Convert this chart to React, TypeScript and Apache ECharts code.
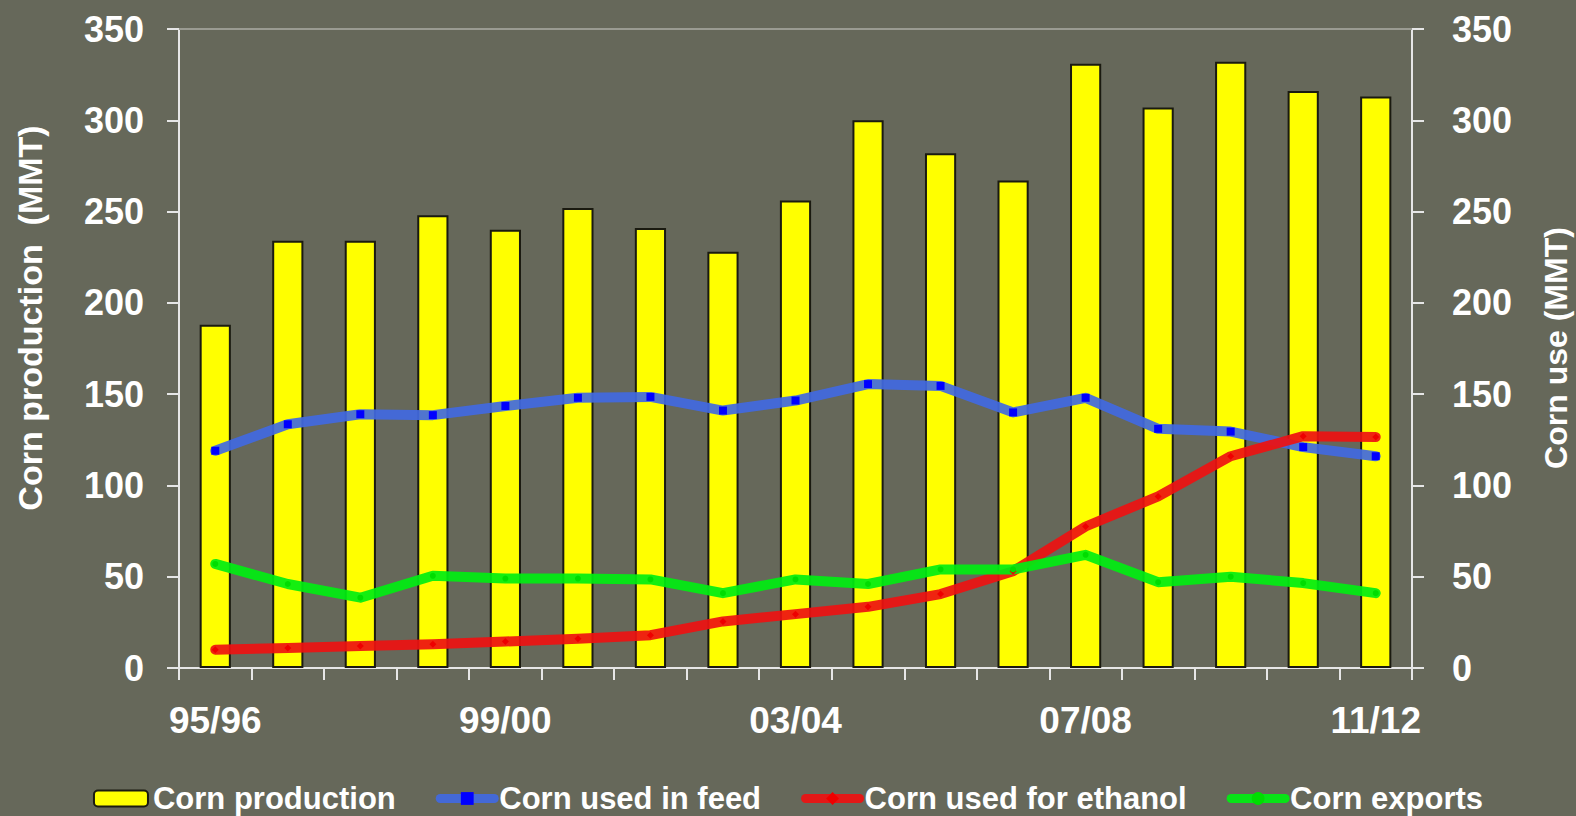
import React, { useEffect, useRef } from "react";
import * as echarts from "echarts";

const categories = [
  "95/96", "96/97", "97/98", "98/99", "99/00", "00/01", "01/02", "02/03", "03/04",
  "04/05", "05/06", "06/07", "07/08", "08/09", "09/10", "10/11", "11/12",
];
const production = [188, 234, 234, 248, 240, 252, 241, 228, 256, 300, 282, 267, 331, 307, 332, 316, 313];
const feed = [119, 133.5, 139, 138.5, 143.5, 148, 148.5, 141, 146.5, 155.5, 154.5, 140, 148, 131, 129.5, 121, 116];
const ethanol = [10, 11, 12, 13, 14.5, 16, 18, 25.5, 29.5, 33.5, 40.5, 53, 77.5, 94, 116, 127, 126.5];
const exportsData = [57, 46, 38.5, 50.5, 49, 49, 48.5, 41, 48.5, 46, 54, 54, 62, 47, 50, 46.5, 41];
const yTicks = { min: 0, max: 350, interval: 50 };

const FONT = "'Liberation Sans', Arial, sans-serif";
const AXIS_COLOR = "#e6e6e6";

export default function App() {
  const ref = useRef<HTMLDivElement>(null);
  useEffect(() => {
    if (!ref.current) return;
    const chart = echarts.init(ref.current, null, { renderer: "svg" });
    const yAxisCommon = {
      type: "value",
      min: yTicks.min,
      max: yTicks.max,
      interval: yTicks.interval,
      splitLine: { show: false },
      axisLine: { show: true, lineStyle: { color: AXIS_COLOR, width: 2 } },
      axisTick: { show: true, length: 12, lineStyle: { color: AXIS_COLOR, width: 2 } },
      axisLabel: { color: "#ffffff", fontSize: 36, fontWeight: "bold", fontFamily: FONT },
    };
    const lineCommon = {
      type: "line",
      yAxisIndex: 1,
      z: 5,
      smooth: false,
    };
    chart.setOption({
      animation: false,
      backgroundColor: "#66685a",
      grid: { left: 179, right: 164, top: 29, bottom: 148, containLabel: false },
      legend: {
        top: 778,
        left: "center",
        itemGap: 40,
        itemWidth: 54,
        itemHeight: 16,
        lineStyle: { width: 9, cap: "round" },
        textStyle: { color: "#ffffff", fontSize: 31, fontWeight: "bold", fontFamily: FONT },
        data: ["Corn production", "Corn used in feed", "Corn used for ethanol", "Corn exports"],
      },
      xAxis: {
        type: "category",
        data: categories,
        boundaryGap: true,
        axisLine: { show: true, lineStyle: { color: AXIS_COLOR, width: 2 } },
        axisTick: { show: true, interval: 0, length: 12, lineStyle: { color: AXIS_COLOR, width: 2 } },
        axisLabel: {
          interval: 3,
          color: "#ffffff",
          fontSize: 37,
          fontWeight: "bold",
          fontFamily: FONT,
          margin: 34,
        },
      },
      yAxis: [
        { ...yAxisCommon, position: "left", axisLabel: { ...yAxisCommon.axisLabel, margin: 35 } },
        { ...yAxisCommon, position: "right", axisLabel: { ...yAxisCommon.axisLabel, margin: 40 } },
      ],
      graphic: [
        {
          type: "text",
          x: 30,
          y: 318,
          rotation: Math.PI / 2,
          style: {
            text: "Corn production  (MMT)",
            fill: "#ffffff",
            font: `bold 34px ${FONT}`,
            textAlign: "center",
            textVerticalAlign: "middle",
          },
        },
        {
          type: "text",
          x: 1556,
          y: 348,
          rotation: Math.PI / 2,
          style: {
            text: "Corn use (MMT)",
            fill: "#ffffff",
            font: `bold 32px ${FONT}`,
            textAlign: "center",
            textVerticalAlign: "middle",
          },
        },
      ],
      series: [
        {
          name: "Corn production",
          type: "bar",
          yAxisIndex: 0,
          data: production,
          barWidth: "43%",
          itemStyle: { color: "#ffff00", borderColor: "#1a1a10", borderWidth: 2 },
          markLine: {
            silent: true,
            symbol: "none",
            label: { show: false },
            lineStyle: { color: "#9a9b92", width: 2, type: "solid" },
            data: [{ yAxis: yTicks.max }],
          },
        },
        {
          ...lineCommon,
          name: "Corn used in feed",
          data: feed,
          symbol: "rect",
          symbolSize: 8,
          itemStyle: { color: "#0000ff" },
          lineStyle: { color: "#4169e1", width: 10, opacity: 0.92, cap: "round", join: "round" },
        },
        {
          ...lineCommon,
          name: "Corn used for ethanol",
          data: ethanol,
          symbol: "diamond",
          symbolSize: 7,
          itemStyle: { color: "#ee0000" },
          lineStyle: { color: "#ee1111", width: 10, opacity: 0.92, cap: "round", join: "round" },
        },
        {
          ...lineCommon,
          name: "Corn exports",
          data: exportsData,
          symbol: "circle",
          symbolSize: 6,
          itemStyle: { color: "#00dd00" },
          lineStyle: { color: "#00ee11", width: 10, opacity: 0.92, cap: "round", join: "round" },
        },
      ],
    });
    return () => chart.dispose();
  }, []);
  return (
    <div
      ref={ref}
      style={{ position: "fixed", left: 0, top: 0, width: 1576, height: 816 }}
    />
  );
}
